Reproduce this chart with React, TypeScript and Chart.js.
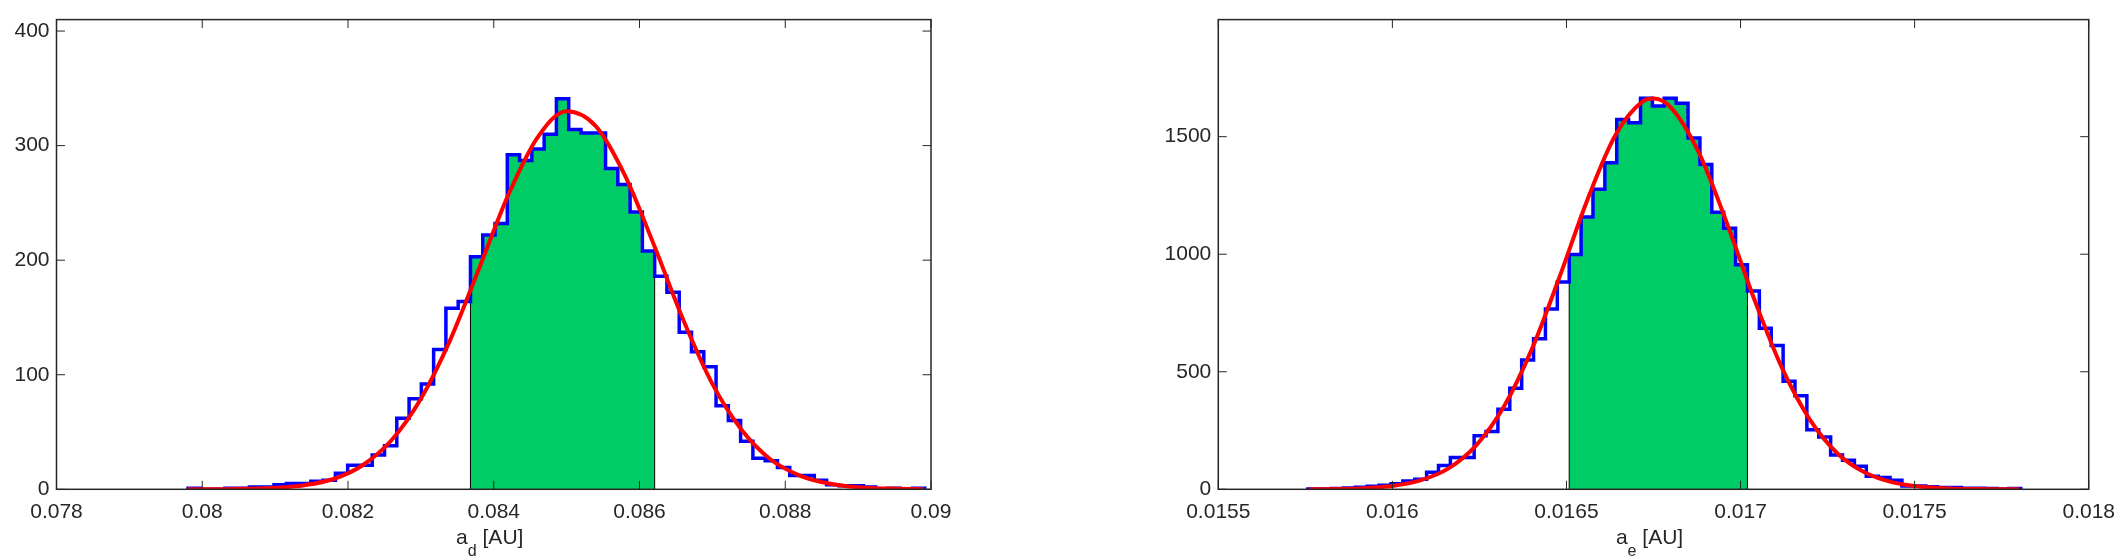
import React, { useEffect, useRef } from "react";
import { Chart, registerables } from "chart.js";

Chart.register(...registerables);

// ---------------- Left panel data (a_d) ----------------
const LEFT_BIN_START = 0.079805;
const LEFT_BIN_WIDTH = 0.0001685;
const LEFT_COUNTS = [
  1, 0, 0, 1, 1, 2, 2, 4, 5, 5,
  7, 8, 14, 21, 21, 30, 38, 62, 79, 92,
  122, 158, 164, 203, 222, 232, 292, 287, 297, 310,
  341, 314, 311, 311, 280, 266, 242, 208, 186, 172,
  137, 120, 107, 73, 60, 42, 27, 25, 19, 12,
  12, 8, 4, 3, 3, 2, 0, 1, 0, 1,
];
const LEFT_GREEN_FIRST = 23;
const LEFT_GREEN_LAST = 37;
const LEFT_FIT_X = [
  0.0798, 0.0802, 0.0806, 0.081, 0.0814, 0.0818, 0.0822, 0.0826, 0.083, 0.0834,
  0.0838, 0.0842, 0.0846, 0.085, 0.0854, 0.0858, 0.0862, 0.0866, 0.087, 0.0874,
  0.0878, 0.0882, 0.0886, 0.089, 0.0894, 0.0899,
];
const LEFT_FIT_Y = [
  0.03, 0.1, 0.4, 1.3, 3.6, 9, 21, 43, 79, 130,
  193, 257, 307, 330, 317, 274, 213, 148, 92, 52,
  26, 12, 5, 1.7, 0.6, 0.1,
];
const LEFT_X_TICKS = [0.078, 0.08, 0.082, 0.084, 0.086, 0.088, 0.09];
const LEFT_X_LABELS = ["0.078", "0.08", "0.082", "0.084", "0.086", "0.088", "0.09"];
const LEFT_Y_TICKS = [0, 100, 200, 300, 400];
const LEFT_Y_LABELS = ["0", "100", "200", "300", "400"];

// ---------------- Right panel data (a_e) ----------------
const RIGHT_BIN_START = 0.015757;
const RIGHT_BIN_WIDTH = 0.00003413;
const RIGHT_COUNTS = [
  1, 1, 3, 6, 9, 13, 17, 24, 35, 43,
  73, 101, 135, 135, 228, 246, 340, 430, 550, 640,
  767, 882, 999, 1158, 1276, 1389, 1573, 1559, 1663, 1631,
  1663, 1642, 1494, 1382, 1179, 1110, 955, 843, 685, 612,
  460, 398, 253, 222, 146, 124, 98, 55, 50, 39,
  14, 14, 11, 8, 8, 4, 4, 3, 1, 3,
];
const RIGHT_GREEN_FIRST = 22;
const RIGHT_GREEN_LAST = 36;
const RIGHT_FIT_X = [
  0.01576, 0.01584, 0.01592, 0.016, 0.01608, 0.01616, 0.01624, 0.01632, 0.0164, 0.01648,
  0.01656, 0.01664, 0.01672, 0.01675, 0.0168, 0.01688, 0.01696, 0.01704, 0.01712, 0.0172,
  0.01728, 0.01736, 0.01744, 0.01752, 0.0176, 0.01768, 0.01776, 0.0178,
];
const RIGHT_FIT_Y = [
  0.4, 1.5, 4.9, 14.4, 38, 88, 186, 351, 594, 903,
  1231, 1505, 1651, 1662, 1624, 1433, 1135, 806, 513, 294,
  150, 69, 28.5, 10.6, 3.5, 1.0, 0.3, 0.14,
];
const RIGHT_X_TICKS = [0.0155, 0.016, 0.0165, 0.017, 0.0175, 0.018];
const RIGHT_X_LABELS = ["0.0155", "0.016", "0.0165", "0.017", "0.0175", "0.018"];
const RIGHT_Y_TICKS = [0, 500, 1000, 1500];
const RIGHT_Y_LABELS = ["0", "500", "1000", "1500"];

const FONT = "'Liberation Sans', Arial, Helvetica, sans-serif";
const INK = "#262626";

type PanelDef = {
  binStart: number;
  binWidth: number;
  counts: number[];
  greenFirst: number;
  greenLast: number;
  fitX: number[];
  fitY: number[];
  xMin: number;
  xMax: number;
  yMax: number;
  xTicks: number[];
  xLabels: string[];
  yTicks: number[];
  yLabels: string[];
  titleMain: string;
  titleSub: string;
  titleRest: string;
  left: number;
  width: number;
  axisLeft: number;
  padRight: number;
};

const framePlugin = {
  id: "frameTicks",
  afterDatasetsDraw(chart: any, _args: any, opts: any) {
    const { ctx, chartArea: a, scales } = chart;
    const x = scales.x;
    const y = scales.y;
    ctx.save();
    ctx.strokeStyle = INK;
    ctx.lineWidth = 1;
    const L = 8.5;
    ctx.beginPath();
    x.ticks.forEach((t: any) => {
      const px = x.getPixelForValue(t.value);
      ctx.moveTo(px, a.bottom);
      ctx.lineTo(px, a.bottom - L);
      ctx.moveTo(px, a.top);
      ctx.lineTo(px, a.top + L);
    });
    y.ticks.forEach((t: any) => {
      const py = y.getPixelForValue(t.value);
      ctx.moveTo(a.left, py);
      ctx.lineTo(a.left + L, py);
      ctx.moveTo(a.right, py);
      ctx.lineTo(a.right - L, py);
    });
    ctx.stroke();
    ctx.lineWidth = 1.5;
    ctx.strokeRect(a.left, a.top, a.right - a.left, a.bottom - a.top);

    // axis title with subscript
    const mainFont = `21px ${FONT}`;
    const subFont = `16px ${FONT}`;
    ctx.fillStyle = INK;
    ctx.textBaseline = "alphabetic";
    ctx.textAlign = "left";
    ctx.font = mainFont;
    const wMain = ctx.measureText(opts.main).width;
    const wRest = ctx.measureText(opts.rest).width;
    ctx.font = subFont;
    const wSub = ctx.measureText(opts.sub).width;
    const total = wMain + wSub + wRest;
    let sx = (a.left + a.right) / 2 - total / 2 - 4;
    const base = 543.5;
    ctx.font = mainFont;
    ctx.fillText(opts.main, sx, base);
    sx += wMain;
    ctx.font = subFont;
    ctx.fillText(opts.sub, sx, base + 12.5);
    sx += wSub;
    ctx.font = mainFont;
    ctx.fillText(opts.rest, sx, base);
    ctx.restore();
  },
};

function buildConfig(p: PanelDef): any {
  const edges = p.counts.map((_, i) => p.binStart + i * p.binWidth);
  const lastEdge = p.binStart + p.counts.length * p.binWidth;

  // stepped "before": horizontal at previous y up to the next x, then vertical
  const histPts: { x: number; y: number }[] = [{ x: edges[0], y: 0 }];
  p.counts.forEach((c, i) => histPts.push({ x: edges[i], y: c }));
  histPts.push({ x: lastEdge, y: p.counts[p.counts.length - 1] });
  histPts.push({ x: lastEdge, y: 0 });

  const gStart = p.binStart + p.greenFirst * p.binWidth;
  const gEnd = p.binStart + (p.greenLast + 1) * p.binWidth;
  const greenPts: { x: number; y: number }[] = [{ x: gStart, y: 0 }];
  for (let i = p.greenFirst; i <= p.greenLast; i++) greenPts.push({ x: edges[i], y: p.counts[i] });
  greenPts.push({ x: gEnd, y: p.counts[p.greenLast] });
  greenPts.push({ x: gEnd, y: 0 });

  const fitPts = p.fitX.map((x, i) => ({ x, y: p.fitY[i] }));

  const canvasH = 560;
  const axisBottom = 489.3;
  const top = 7.3;

  return {
    type: "line",
    data: {
      datasets: [
        {
          data: fitPts,
          borderColor: "#FF0000",
          borderWidth: 4,
          pointRadius: 0,
          fill: false,
          cubicInterpolationMode: "monotone",
          order: 0,
        },
        {
          data: histPts,
          borderColor: "#0000FF",
          borderWidth: 3.5,
          pointRadius: 0,
          fill: false,
          stepped: "before",
          borderJoinStyle: "miter",
          order: 1,
        },
        {
          data: greenPts,
          borderColor: "#000000",
          borderWidth: 1,
          backgroundColor: "#00CC66",
          pointRadius: 0,
          fill: "origin",
          stepped: "before",
          order: 2,
        },
      ],
    },
    options: {
      animation: false,
      responsive: false,
      events: [],
      layout: { padding: { top, right: p.padRight, left: 0, bottom: 0 } },
      plugins: {
        legend: { display: false },
        tooltip: { enabled: false },
        frameTicks: { main: p.titleMain, sub: p.titleSub, rest: p.titleRest },
      },
      scales: {
        x: {
          type: "linear",
          min: p.xMin,
          max: p.xMax,
          grid: { display: false, drawTicks: false },
          border: { display: false },
          afterBuildTicks: (s: any) => {
            s.ticks = p.xTicks.map((v) => ({ value: v }));
          },
          afterFit: (s: any) => {
            s.height = canvasH - axisBottom;
          },
          ticks: {
            maxRotation: 0,
            autoSkip: false,
            padding: 10,
            color: INK,
            font: { family: FONT, size: 21 },
            callback: (_v: any, i: number) => p.xLabels[i],
          },
        },
        y: {
          type: "linear",
          min: 0,
          max: p.yMax,
          grid: { display: false, drawTicks: false },
          border: { display: false },
          afterBuildTicks: (s: any) => {
            s.ticks = p.yTicks.map((v) => ({ value: v }));
          },
          afterFit: (s: any) => {
            s.width = p.axisLeft;
          },
          ticks: {
            autoSkip: false,
            padding: 7,
            color: INK,
            font: { family: FONT, size: 21 },
            callback: (_v: any, i: number) => p.yLabels[i],
          },
        },
      },
    },
    plugins: [framePlugin],
  };
}

const LEFT_PANEL: PanelDef = {
  binStart: LEFT_BIN_START,
  binWidth: LEFT_BIN_WIDTH,
  counts: LEFT_COUNTS,
  greenFirst: LEFT_GREEN_FIRST,
  greenLast: LEFT_GREEN_LAST,
  fitX: LEFT_FIT_X,
  fitY: LEFT_FIT_Y,
  xMin: 0.078,
  xMax: 0.09,
  yMax: 410,
  xTicks: LEFT_X_TICKS,
  xLabels: LEFT_X_LABELS,
  yTicks: LEFT_Y_TICKS,
  yLabels: LEFT_Y_LABELS,
  titleMain: "a",
  titleSub: "d",
  titleRest: " [AU]",
  left: 0,
  width: 1062,
  axisLeft: 56.5,
  padRight: 1062 - 931,
};

const RIGHT_PANEL: PanelDef = {
  binStart: RIGHT_BIN_START,
  binWidth: RIGHT_BIN_WIDTH,
  counts: RIGHT_COUNTS,
  greenFirst: RIGHT_GREEN_FIRST,
  greenLast: RIGHT_GREEN_LAST,
  fitX: RIGHT_FIT_X,
  fitY: RIGHT_FIT_Y,
  xMin: 0.0155,
  xMax: 0.018,
  yMax: 1998,
  xTicks: RIGHT_X_TICKS,
  xLabels: RIGHT_X_LABELS,
  yTicks: RIGHT_Y_TICKS,
  yLabels: RIGHT_Y_LABELS,
  titleMain: "a",
  titleSub: "e",
  titleRest: " [AU]",
  left: 1062,
  width: 1063,
  axisLeft: 1218.3 - 1062,
  padRight: 2125 - 2093,
};

function Panel({ def }: { def: PanelDef }) {
  const ref = useRef<HTMLCanvasElement | null>(null);
  useEffect(() => {
    if (!ref.current) return;
    const chart = new Chart(ref.current, buildConfig(def));
    return () => chart.destroy();
  }, [def]);
  return (
    <canvas
      ref={ref}
      width={def.width}
      height={560}
      style={{ position: "absolute", left: def.left, top: 0, width: def.width, height: 560 }}
    />
  );
}

export default function App() {
  return (
    <div
      style={{
        position: "absolute",
        left: 0,
        top: 0,
        width: 2125,
        height: 560,
        background: "#ffffff",
        overflow: "hidden",
      }}
    >
      <Panel def={LEFT_PANEL} />
      <Panel def={RIGHT_PANEL} />
    </div>
  );
}
